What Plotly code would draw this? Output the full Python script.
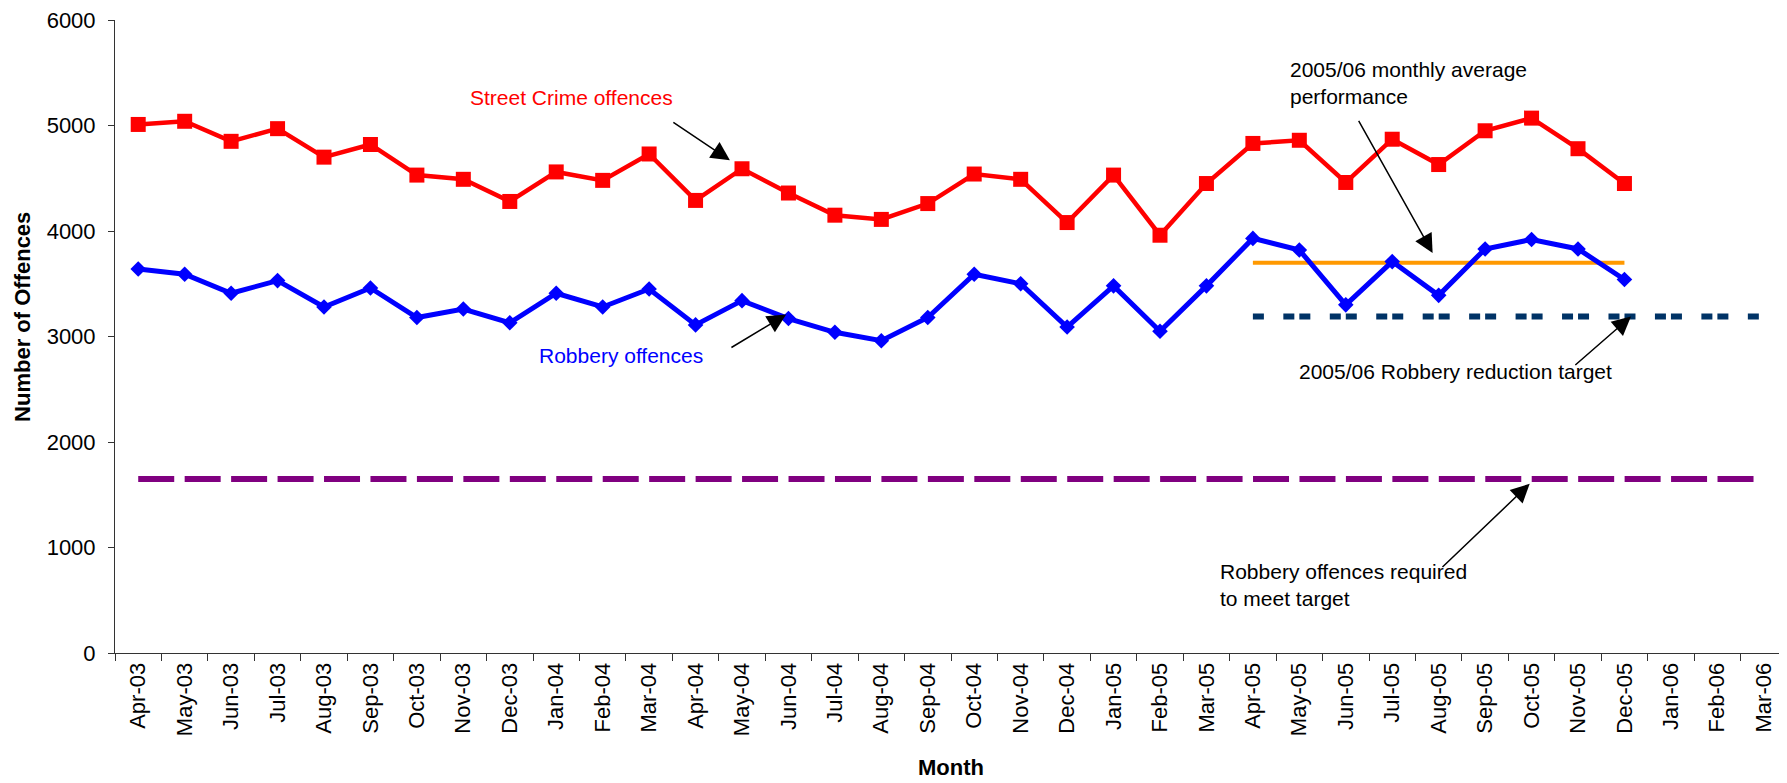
import plotly.graph_objects as go

months = ["Apr-03", "May-03", "Jun-03", "Jul-03", "Aug-03", "Sep-03", "Oct-03", "Nov-03",
          "Dec-03", "Jan-04", "Feb-04", "Mar-04", "Apr-04", "May-04", "Jun-04", "Jul-04",
          "Aug-04", "Sep-04", "Oct-04", "Nov-04", "Dec-04", "Jan-05", "Feb-05", "Mar-05",
          "Apr-05", "May-05", "Jun-05", "Jul-05", "Aug-05", "Sep-05", "Oct-05", "Nov-05",
          "Dec-05", "Jan-06", "Feb-06", "Mar-06"]

street_crime = [5010, 5040, 4850, 4970, 4700, 4820, 4530, 4490, 4280, 4560, 4480, 4730,
                4290, 4590, 4360, 4150, 4110, 4260, 4540, 4490, 4080, 4530, 3960, 4450,
                4830, 4860, 4460, 4870, 4630, 4950, 5070, 4780, 4450]

robbery = [3640, 3590, 3410, 3530, 3280, 3460, 3180, 3260, 3130, 3410, 3280, 3450,
           3110, 3340, 3170, 3040, 2960, 3180, 3590, 3500, 3090, 3480, 3050, 3480,
           3930, 3820, 3300, 3710, 3390, 3830, 3920, 3830, 3540]

avg_months = months[24:33]
avg_0506 = [3700] * len(avg_months)

target_months = months[24:36]
target_0506 = [3190] * len(target_months)

required = [1650] * len(months)

FONT = "Liberation Sans, Arial, sans-serif"

fig = go.Figure()

fig.add_trace(go.Scatter(x=months, y=required, mode="lines",
                         line=dict(color="#800080", width=6, dash="36px,10.45px")))
fig.add_trace(go.Scatter(x=target_months, y=target_0506, mode="lines",
                         line=dict(color="#003366", width=6, dash="11px,19.45px,11px,5px")))
fig.add_trace(go.Scatter(x=avg_months, y=avg_0506, mode="lines",
                         line=dict(color="#FF9900", width=4)))
fig.add_trace(go.Scatter(x=months[:len(street_crime)], y=street_crime, mode="lines+markers",
                         line=dict(color="#FF0000", width=4.5),
                         marker=dict(symbol="square", size=15, color="#FF0000")))
fig.add_trace(go.Scatter(x=months[:len(robbery)], y=robbery, mode="lines+markers",
                         line=dict(color="#0000FF", width=5),
                         marker=dict(symbol="diamond", size=12, color="#0000FF")))

# arrows: (tail x, tail y, head x, head y) in axis units
arrows = [
    (11.49, 5038, 12.74, 4670),
    (12.74, 2887, 13.95, 3208),
    (26.26, 5057, 27.87, 3792),
    (30.91, 2717, 32.14, 3189),
    (28.05, 802, 29.96, 1604),
]
for ax_, ay_, hx, hy in arrows:
    fig.add_annotation(x=hx, y=hy, ax=ax_, ay=ay_, xref="x", yref="y", axref="x", ayref="y",
                       text="", showarrow=True, arrowhead=2, arrowsize=2.5, arrowwidth=1.5,
                       arrowcolor="black", standoff=0)

labels = [
    (7.10, 5264, "Street Crime offences", "#FF0000"),
    (8.585, 2821, "Robbery offences", "#0000FF"),
    (24.75, 5406, "2005/06 monthly average<br>performance", "black"),
    (24.95, 2670, "2005/06 Robbery reduction target", "black"),
    (23.25, 642, "Robbery offences required<br>to meet target", "black"),
]
for lx, ly, txt, col in labels:
    fig.add_annotation(x=lx, y=ly, xref="x", yref="y", text=txt, showarrow=False,
                       xanchor="left", yanchor="middle", align="left",
                       font=dict(family=FONT, size=21, color=col))

fig.add_annotation(x=-0.055, y=0.531, xref="paper", yref="paper", text="<b>Number of Offences</b>",
                   textangle=-90, showarrow=False, xanchor="center", yanchor="middle",
                   font=dict(family=FONT, size=22, color="black"))
fig.add_annotation(x=0.5, y=-0.181, xref="paper", yref="paper", text="<b>Month</b>",
                   showarrow=False, xanchor="center", yanchor="middle",
                   font=dict(family=FONT, size=22, color="black"))

fig.update_xaxes(type="category", categoryorder="array", categoryarray=months,
                 range=[-0.5, 35.5], tickson="boundaries", ticks="outside", ticklen=7,
                 tickcolor="#333", showline=True, linecolor="#333", linewidth=1,
                 showgrid=False, zeroline=False, tickangle=-90,
                 tickfont=dict(family=FONT, size=22, color="black"))
fig.update_yaxes(range=[0, 6000], dtick=1000, ticks="outside", ticklen=6, tickcolor="#333",
                 showline=True, linecolor="#333", linewidth=1, showgrid=False, zeroline=False,
                 ticklabelstandoff=8, ticklabeloverflow="allow",
                 tickfont=dict(family=FONT, size=22, color="black"))

# page body has an 8px margin, so the figure is shifted to match
fig.update_layout(width=1779, height=775, showlegend=False,
                  margin=dict(l=107, r=0, t=9, b=130),
                  plot_bgcolor="white", paper_bgcolor="white")

fig.write_html("out.html")
